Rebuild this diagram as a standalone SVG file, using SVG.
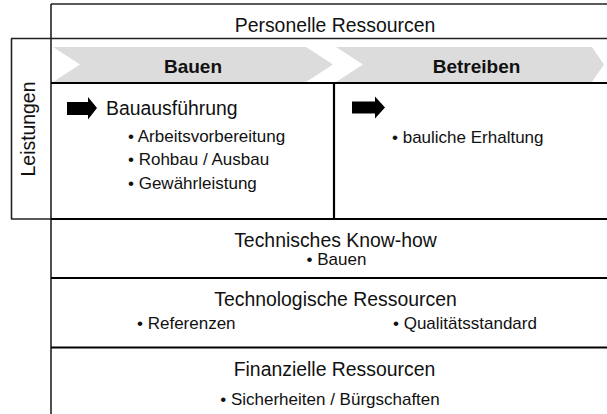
<svg xmlns="http://www.w3.org/2000/svg" width="607" height="414" viewBox="0 0 607 414">
<style>
.t{font-family:"Liberation Sans",Arial,sans-serif;fill:#111;}
.h{font-size:19.4px;}
.b{font-size:19px;font-weight:bold;}
.s{font-size:17px;}
.thin{stroke:#222;stroke-width:1.6;fill:none;}
.thick{stroke:#000;stroke-width:2.2;fill:none;}
.chev{fill:#dcdcdc;}
.arr{fill:#000;}
</style>
<rect width="607" height="414" fill="#fff"/>
<g id="chevrons">
<polygon class="chev" points="53,47 306,47 333,64.5 306,82 53,82 80,64.5"/>
<polygon class="chev" points="336,47 592,47 604,64.5 592,82 336,82 363,64.5"/>
</g>
<g id="connectors">
<line class="thin" x1="51" y1="4" x2="607" y2="4"/>
<line class="thin" x1="11" y1="38.5" x2="607" y2="38.5"/>
<line class="thin" x1="51" y1="4" x2="51" y2="414"/>
<line class="thin" x1="11.5" y1="38.5" x2="11.5" y2="219"/>
<line class="thin" x1="11" y1="219" x2="51" y2="219"/>
<line class="thick" x1="51" y1="83" x2="607" y2="83"/>
<line class="thick" x1="51" y1="219" x2="607" y2="219"/>
<line class="thick" x1="334" y1="83" x2="334" y2="219"/>
<line class="thick" x1="51" y1="278" x2="607" y2="278"/>
<line class="thick" x1="51" y1="347.5" x2="607" y2="347.5"/>
</g>
<g id="personelle">
<text class="t h" x="335" y="32" text-anchor="middle">Personelle Ressourcen</text>
</g>
<g id="leistungen">
<text class="t h" transform="translate(35,129) rotate(-90)" text-anchor="middle">Leistungen</text>
</g>
<g id="bauen">
<text class="t b" x="193" y="72.5" text-anchor="middle">Bauen</text>
<polygon class="arr" points="67,102 88,102 88,97 97,108 88,119.5 88,115 67,115"/>
<text class="t h" x="106" y="115">Bauausführung</text>
<text class="t s" x="128" y="141.5">• Arbeitsvorbereitung</text>
<text class="t s" x="128" y="165">• Rohbau / Ausbau</text>
<text class="t s" x="128" y="188.5">• Gewährleistung</text>
</g>
<g id="betreiben">
<text class="t b" x="476.5" y="72.5" text-anchor="middle">Betreiben</text>
<polygon class="arr" points="352,101.5 375,101.5 375,96.5 385,107.5 375,118.5 375,113.5 352,113.5"/>
<text class="t s" x="392" y="143">• bauliche Erhaltung</text>
</g>
<g id="technisches">
<text class="t h" x="335.5" y="246.5" text-anchor="middle">Technisches Know-how</text>
<text class="t s" x="336.5" y="265" text-anchor="middle">• Bauen</text>
</g>
<g id="technologische">
<text class="t h" x="335.5" y="305.5" text-anchor="middle">Technologische Ressourcen</text>
<text class="t s" x="137" y="329">• Referenzen</text>
<text class="t s" x="393" y="329">• Qualitätsstandard</text>
</g>
<g id="finanzielle">
<text class="t h" x="334.5" y="375.5" text-anchor="middle">Finanzielle Ressourcen</text>
<text class="t s" x="330" y="405" text-anchor="middle">• Sicherheiten / Bürgschaften</text>
</g>
</svg>
